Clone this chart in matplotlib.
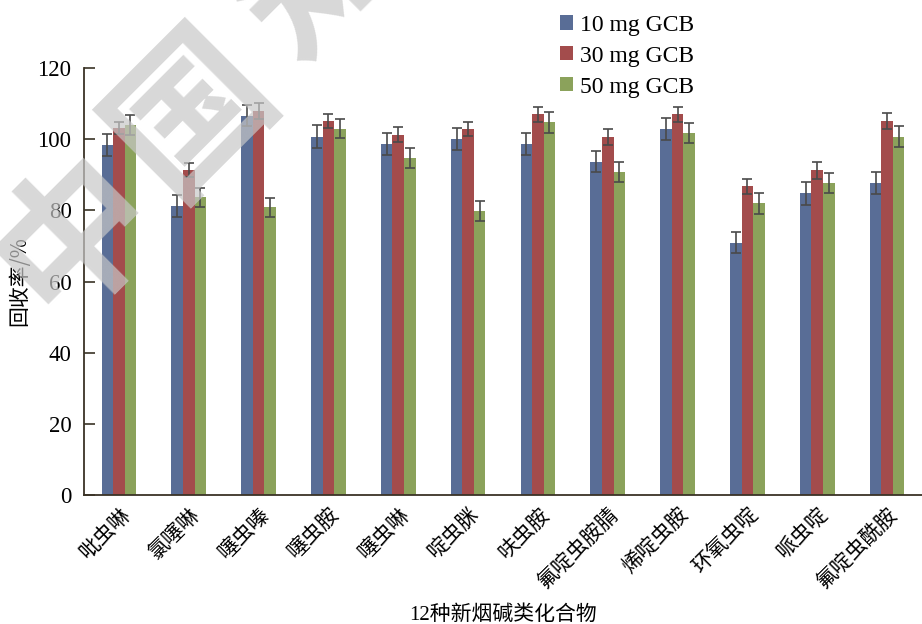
import numpy as np
import matplotlib
matplotlib.use('Agg')
import matplotlib.pyplot as plt

plt.rcParams['font.family'] = ['Liberation Serif', 'Noto Sans CJK SC', 'DejaVu Sans']

# 12 neonicotinoids, recovery (%) at three GCB amounts
compounds = ['吡虫啉', '氯噻啉', '噻虫嗪', '噻虫胺', '噻虫啉', '啶虫脒',
             '呋虫胺', '氟啶虫胺腈', '烯啶虫胺', '环氧虫啶', '哌虫啶', '氟啶虫酰胺']
series_labels = ['10 mg GCB', '30 mg GCB', '50 mg GCB']

gcb10 = [98.4, 81.2, 106.6, 100.7, 98.6, 100.0, 98.6, 93.7, 102.9, 70.9, 84.8, 87.8]
gcb30 = [103.1, 91.3, 108.0, 105.1, 101.2, 102.9, 107.0, 100.7, 107.0, 86.7, 91.2, 105.1]
gcb50 = [104.0, 83.7, 80.9, 102.9, 94.8, 79.8, 104.7, 90.9, 101.8, 82.0, 87.8, 100.7]

err10 = [3.1, 3.0, 3.0, 3.2, 3.0, 3.1, 3.1, 2.9, 3.1, 3.0, 3.2, 3.1]
err30 = [1.7, 2.0, 2.3, 2.0, 2.1, 2.0, 2.1, 2.2, 2.1, 2.0, 2.3, 2.2]
err50 = [2.8, 2.7, 2.7, 2.7, 2.8, 2.7, 3.0, 2.8, 2.8, 2.9, 2.8, 3.0]

colors = ['#596d96', '#a34c4c', '#8ba25b']
cjk = ['Noto Sans CJK SC', 'DejaVu Sans']

fig = plt.figure(figsize=(9.22, 6.24), dpi=100)
ax = fig.add_axes([84 / 922, 1 - 495 / 624, 838 / 922, (495 - 68) / 624])

x = np.arange(len(compounds))
w = 0.165
for i, (vals, errs) in enumerate(zip([gcb10, gcb30, gcb50], [err10, err30, err50])):
    ax.bar(x + (i - 1) * w, vals, w, color=colors[i], label=series_labels[i],
           yerr=errs, capsize=3.5,
           error_kw=dict(ecolor='#4a4a4a', elinewidth=1.2, capthick=1.2))

ax.set_xlim(-0.5, 11.5)
ax.set_ylim(0, 120)
ax.set_yticks(np.arange(0, 121, 20))
ax.set_xticks(x)
ax.set_xticklabels(compounds, rotation=45, ha='right', va='top',
                   rotation_mode='anchor', fontsize=15, family=cjk)
ax.tick_params(axis='x', length=0, pad=6)
ax.tick_params(axis='y', direction='in', length=8, width=1.2,
               labelsize=16.5, color='#3a3326', pad=9)
for s in ['top', 'right']:
    ax.spines[s].set_visible(False)
for s in ['left', 'bottom']:
    ax.spines[s].set_color('#3a3326')
    ax.spines[s].set_linewidth(1.3)

ax.set_ylabel('回收率/%', fontsize=15, labelpad=5, family=cjk)
ax.set_xlabel('12种新烟碱类化合物', fontsize=15, labelpad=9,
              family=['Liberation Serif', 'Noto Sans CJK SC'])

ax.legend(loc='upper left', bbox_to_anchor=(548 / 922, 1 - 3 / 624),
          bbox_transform=fig.transFigure, frameon=False, fontsize=17,
          handlelength=0.55, handleheight=0.55, handletextpad=0.3,
          labelspacing=0.42, borderpad=0)

# diagonal watermark on top of the plot
for ch, (px, py) in zip('中国知', [(76, 236), (192, 112), (318, -25)]):
    fig.text(px / 922, 1 - py / 624, ch, fontsize=112, fontweight='bold',
             rotation=45, ha='center', va='center', color='#c8c8c8',
             alpha=0.7, family=['Noto Sans CJK SC'], zorder=10)

fig.savefig('out.png', dpi=100)
